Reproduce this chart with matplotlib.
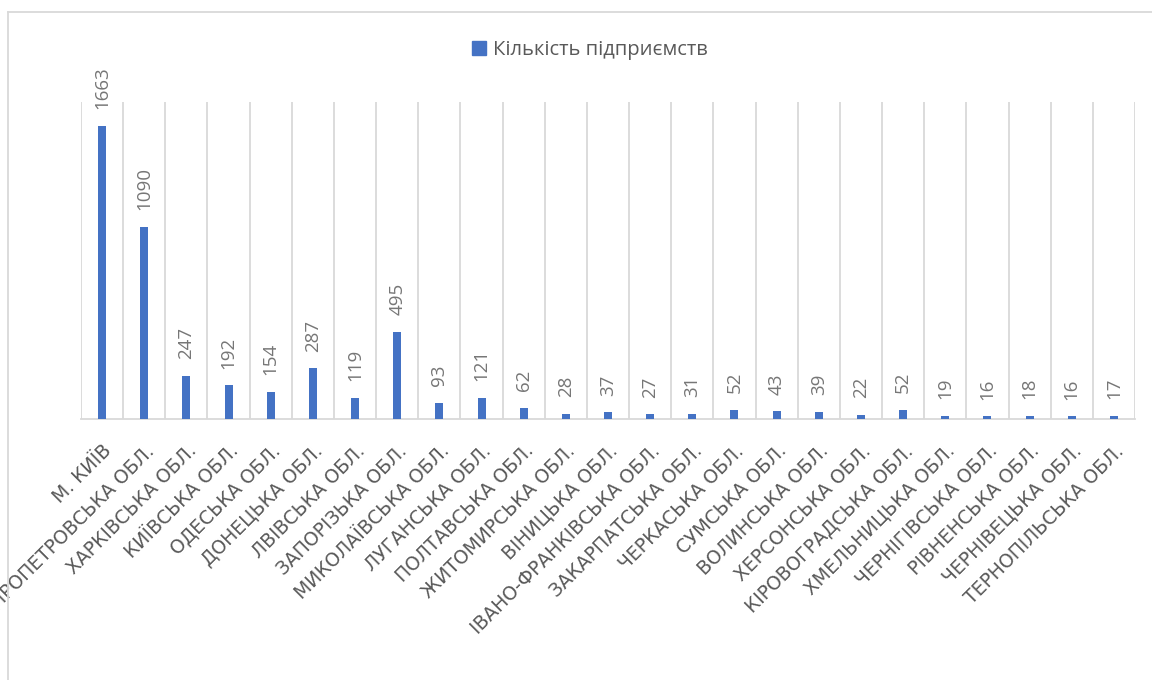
import matplotlib
matplotlib.use("Agg")
import matplotlib.pyplot as plt
from matplotlib.lines import Line2D
from matplotlib.patches import Patch

regions = [
    "М. КИЇВ", "ДНІПРОПЕТРОВСЬКА ОБЛ.", "ХАРКІВСЬКА ОБЛ.", "КИЇВСЬКА ОБЛ.",
    "ОДЕСЬКА ОБЛ.", "ДОНЕЦЬКА ОБЛ.", "ЛВІВСЬКА ОБЛ.", "ЗАПОРІЗЬКА ОБЛ.",
    "МИКОЛАЇВСЬКА ОБЛ.", "ЛУГАНСЬКА ОБЛ.", "ПОЛТАВСЬКА ОБЛ.", "ЖИТОМИРСЬКА ОБЛ.",
    "ВІНИЦЬКА ОБЛ.", "ІВАНО-ФРАНКІВСЬКА ОБЛ.", "ЗАКАРПАТСЬКА ОБЛ.", "ЧЕРКАСЬКА ОБЛ.",
    "СУМСЬКА ОБЛ.", "ВОЛИНСЬКА ОБЛ.", "ХЕРСОНСЬКА ОБЛ.", "КІРОВОГРАДСЬКА ОБЛ.",
    "ХМЕЛЬНИЦЬКА ОБЛ.", "ЧЕРНІГІВСЬКА ОБЛ.", "РІВНЕНСЬКА ОБЛ.", "ЧЕРНІВЕЦЬКА ОБЛ.",
    "ТЕРНОПІЛЬСЬКА ОБЛ.",
]
counts = [1663, 1090, 247, 192, 154, 287, 119, 495, 93, 121, 62, 28, 37, 27,
          31, 52, 43, 39, 22, 52, 19, 16, 18, 16, 17]
series_name = "Кількість підприємств"

BAR = "#4472C4"
GRID = "#D9D9D9"
TXT = "#595959"
VAL = "#767676"
FONT = ["Open Sans", "DejaVu Sans"]
CAT_FONT = ["DejaVu Sans"]

fig = plt.figure(figsize=(11.52, 6.8), dpi=100)
ax = fig.add_axes([81 / 1152, 261 / 680, (1135 - 81) / 1152, 317 / 680])

x = list(range(len(counts)))
ax.bar(x, counts, width=0.19, color=BAR, zorder=3)
ax.set_xlim(-0.5, len(counts) - 0.5)
ax.set_ylim(0, 1800)

# vertical category gridlines
for b in [i - 0.5 for i in range(len(counts) + 1)]:
    ax.axvline(b, color=GRID, lw=1.3, zorder=1)

for s in ["top", "right", "left"]:
    ax.spines[s].set_visible(False)
ax.spines["bottom"].set_color(GRID)
ax.spines["bottom"].set_linewidth(1.3)
ax.set_yticks([])
ax.set_xticks(x)
ax.set_xticklabels(regions, rotation=45, ha="right", va="top",
                   rotation_mode="anchor", fontsize=13.5, color=TXT,
                   family=CAT_FONT)
ax.tick_params(axis="x", length=0, pad=16)

for xi, v in zip(x, counts):
    ax.annotate(str(v), (xi, v), xytext=(0, 12), textcoords="offset points",
                rotation=90, ha="center", va="bottom", fontsize=13.5,
                color=VAL, family=FONT)

fig.legend(handles=[Patch(facecolor=BAR, edgecolor=BAR)], labels=[series_name],
           loc="center", bbox_to_anchor=(590 / 1152, 1 - 50 / 680),
           frameon=False, handlelength=0.65, handleheight=0.65,
           handletextpad=0.35, prop={"family": FONT, "size": 14.5},
           labelcolor=TXT)

# chart-area border (top and left visible)
fig.add_artist(Line2D([8 / 1152, 1], [1 - 12 / 680, 1 - 12 / 680],
                      transform=fig.transFigure, color=GRID, lw=1.3))
fig.add_artist(Line2D([8 / 1152, 8 / 1152], [0, 1 - 12 / 680],
                      transform=fig.transFigure, color=GRID, lw=1.3))

fig.savefig("out.png", dpi=100, facecolor="white")
